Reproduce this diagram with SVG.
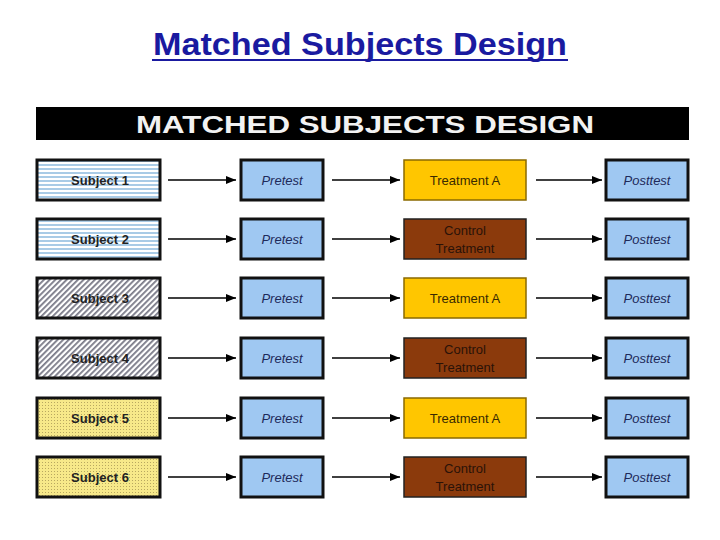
<svg xmlns="http://www.w3.org/2000/svg" width="720" height="540" viewBox="0 0 720 540">
<defs>
<pattern id="hstripe" width="6" height="4" patternUnits="userSpaceOnUse"><rect width="6" height="4" fill="#ffffff"/><rect width="6" height="2" fill="#a9cbe6"/></pattern>
<pattern id="diag" width="4" height="4" patternUnits="userSpaceOnUse" patternTransform="rotate(45)"><rect width="4" height="4" fill="#ffffff"/><rect width="1.8" height="4" fill="#7a7a88"/></pattern>
<pattern id="dots" width="3" height="3" patternUnits="userSpaceOnUse"><rect width="3" height="3" fill="#f7e98a"/><rect width="1" height="1" fill="#b8a860"/></pattern>
<marker id="ah" markerWidth="10" markerHeight="8" refX="10" refY="4" orient="auto" markerUnits="userSpaceOnUse"><path d="M0,0 L10,4 L0,8 z" fill="#000"/></marker>
</defs>
<style>
.b{stroke:#111;stroke-width:3}
.t{font-family:"Liberation Sans",Arial,sans-serif;font-size:13px;text-anchor:middle}
.s{font-weight:bold;fill:#222}
.i{font-style:italic;fill:#1e2a5a}
.pre{fill:#9fc8f2}
.ta{fill:#ffc600;stroke:#8a6a00;stroke-width:1.5}
.ct{fill:#8b3a0c;stroke:#222;stroke-width:1.5}
.c line{stroke:#000;stroke-width:1.5}
</style>
<rect width="720" height="540" fill="#fff"/>
<text x="360" y="55" font-family="'Liberation Sans',Arial,sans-serif" font-size="31" font-weight="bold" fill="#1a1aa0" text-anchor="middle" textLength="414" lengthAdjust="spacingAndGlyphs">Matched Subjects Design</text>
<line x1="152" y1="60" x2="568" y2="60" stroke="#1a1aa0" stroke-width="2"/>
<g id="header"><rect x="36" y="107" width="653" height="33" fill="#000"/><text x="365" y="133" font-family="'Liberation Sans',Arial,sans-serif" font-size="24" font-weight="bold" fill="#f2f2f2" text-anchor="middle" textLength="458" lengthAdjust="spacingAndGlyphs">MATCHED SUBJECTS DESIGN</text></g>
<g class="c">
<line x1="168" y1="180" x2="236" y2="180" marker-end="url(#ah)"/><line x1="332" y1="180" x2="400" y2="180" marker-end="url(#ah)"/><line x1="536" y1="180" x2="602" y2="180" marker-end="url(#ah)"/>
<line x1="168" y1="239" x2="236" y2="239" marker-end="url(#ah)"/><line x1="332" y1="239" x2="400" y2="239" marker-end="url(#ah)"/><line x1="536" y1="239" x2="602" y2="239" marker-end="url(#ah)"/>
<line x1="168" y1="298" x2="236" y2="298" marker-end="url(#ah)"/><line x1="332" y1="298" x2="400" y2="298" marker-end="url(#ah)"/><line x1="536" y1="298" x2="602" y2="298" marker-end="url(#ah)"/>
<line x1="168" y1="358" x2="236" y2="358" marker-end="url(#ah)"/><line x1="332" y1="358" x2="400" y2="358" marker-end="url(#ah)"/><line x1="536" y1="358" x2="602" y2="358" marker-end="url(#ah)"/>
<line x1="168" y1="418" x2="236" y2="418" marker-end="url(#ah)"/><line x1="332" y1="418" x2="400" y2="418" marker-end="url(#ah)"/><line x1="536" y1="418" x2="602" y2="418" marker-end="url(#ah)"/>
<line x1="168" y1="477" x2="236" y2="477" marker-end="url(#ah)"/><line x1="332" y1="477" x2="400" y2="477" marker-end="url(#ah)"/><line x1="536" y1="477" x2="602" y2="477" marker-end="url(#ah)"/>
</g>
<g id="subj1"><rect class="b" x="37" y="160" width="123" height="40" fill="url(#hstripe)"/><text class="t s" x="100" y="185">Subject 1</text></g>
<g id="subj2"><rect class="b" x="37" y="219" width="123" height="40" fill="url(#hstripe)"/><text class="t s" x="100" y="244">Subject 2</text></g>
<g id="subj3"><rect class="b" x="37" y="278" width="123" height="40" fill="url(#diag)"/><text class="t s" x="100" y="303">Subject 3</text></g>
<g id="subj4"><rect class="b" x="37" y="338" width="123" height="40" fill="url(#diag)"/><text class="t s" x="100" y="363">Subject 4</text></g>
<g id="subj5"><rect class="b" x="37" y="398" width="123" height="40" fill="url(#dots)"/><text class="t s" x="100" y="423">Subject 5</text></g>
<g id="subj6"><rect class="b" x="37" y="457" width="123" height="40" fill="url(#dots)"/><text class="t s" x="100" y="482">Subject 6</text></g>
<g id="pre1"><rect class="b pre" x="241" y="160" width="82" height="40"/><text class="t i" x="282" y="185">Pretest</text></g>
<g id="pre2"><rect class="b pre" x="241" y="219" width="82" height="40"/><text class="t i" x="282" y="244">Pretest</text></g>
<g id="pre3"><rect class="b pre" x="241" y="278" width="82" height="40"/><text class="t i" x="282" y="303">Pretest</text></g>
<g id="pre4"><rect class="b pre" x="241" y="338" width="82" height="40"/><text class="t i" x="282" y="363">Pretest</text></g>
<g id="pre5"><rect class="b pre" x="241" y="398" width="82" height="40"/><text class="t i" x="282" y="423">Pretest</text></g>
<g id="pre6"><rect class="b pre" x="241" y="457" width="82" height="40"/><text class="t i" x="282" y="482">Pretest</text></g>
<g id="tr1"><rect class="ta" x="404" y="160" width="122" height="40"/><text class="t" x="465" y="185" fill="#3a2a00">Treatment A</text></g>
<g id="tr2"><rect class="ct" x="404" y="219" width="122" height="40"/><text class="t" x="465" y="235" fill="#2a1208">Control</text><text class="t" x="465" y="253" fill="#2a1208">Treatment</text></g>
<g id="tr3"><rect class="ta" x="404" y="278" width="122" height="40"/><text class="t" x="465" y="303" fill="#3a2a00">Treatment A</text></g>
<g id="tr4"><rect class="ct" x="404" y="338" width="122" height="40"/><text class="t" x="465" y="354" fill="#2a1208">Control</text><text class="t" x="465" y="372" fill="#2a1208">Treatment</text></g>
<g id="tr5"><rect class="ta" x="404" y="398" width="122" height="40"/><text class="t" x="465" y="423" fill="#3a2a00">Treatment A</text></g>
<g id="tr6"><rect class="ct" x="404" y="457" width="122" height="40"/><text class="t" x="465" y="473" fill="#2a1208">Control</text><text class="t" x="465" y="491" fill="#2a1208">Treatment</text></g>
<g id="post1"><rect class="b pre" x="606" y="160" width="82" height="40"/><text class="t i" x="647" y="185">Posttest</text></g>
<g id="post2"><rect class="b pre" x="606" y="219" width="82" height="40"/><text class="t i" x="647" y="244">Posttest</text></g>
<g id="post3"><rect class="b pre" x="606" y="278" width="82" height="40"/><text class="t i" x="647" y="303">Posttest</text></g>
<g id="post4"><rect class="b pre" x="606" y="338" width="82" height="40"/><text class="t i" x="647" y="363">Posttest</text></g>
<g id="post5"><rect class="b pre" x="606" y="398" width="82" height="40"/><text class="t i" x="647" y="423">Posttest</text></g>
<g id="post6"><rect class="b pre" x="606" y="457" width="82" height="40"/><text class="t i" x="647" y="482">Posttest</text></g>
</svg>
